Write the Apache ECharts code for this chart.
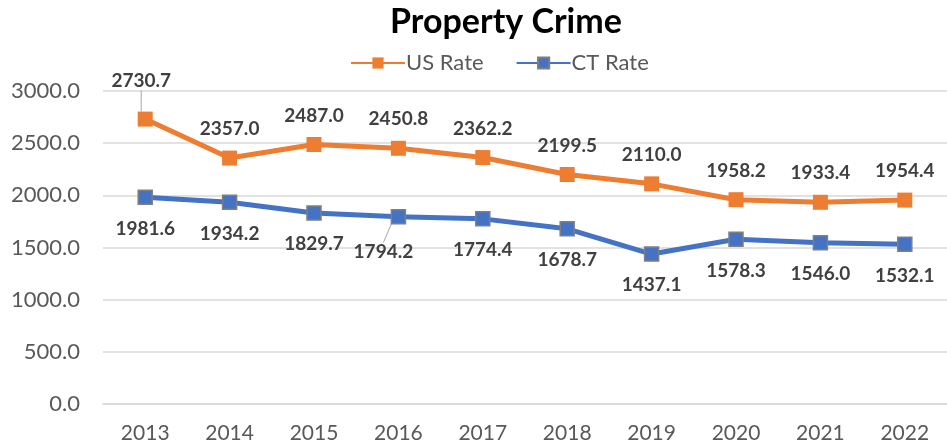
<!DOCTYPE html>
<html>
<head>
<meta charset="utf-8">
<script src="https://cdn.jsdelivr.net/npm/echarts@6/dist/echarts.min.js"></script>
<style>
  html, body { margin: 0; padding: 0; background: #fff; }
  #chart { width: 947px; height: 448px; }
</style>
</head>
<body>
<div id="chart"></div>
<script>
var years = ['2013', '2014', '2015', '2016', '2017', '2018', '2019', '2020', '2021', '2022'];
var usRate = [2730.7, 2357.0, 2487.0, 2450.8, 2362.2, 2199.5, 2110.0, 1958.2, 1933.4, 1954.4];
var ctRate = [1981.6, 1934.2, 1829.7, 1794.2, 1774.4, 1678.7, 1437.1, 1578.3, 1546.0, 1532.1];
var yTicks = [0, 500, 1000, 1500, 2000, 2500, 3000];

var chart = echarts.init(document.getElementById('chart'));
var font = 'Lato, "Open Sans", sans-serif';

// leader line only on the labels that were moved off their point
function withLeader(values, idx) {
    return values.map(function (v, i) {
        if (i === idx) return { value: v, labelLine: { show: true, lineStyle: { color: '#a6a6a6', width: 1 } } };
        return v;
    });
}

chart.setOption({
    animation: false,
    textStyle: { fontFamily: font },
    title: {
        text: 'Property Crime',
        left: 385,
        top: 0,
        textStyle: { fontSize: 34, fontWeight: 'bold', color: '#000', fontFamily: font }
    },
    legend: {
        top: 47,
        left: 345,
        itemWidth: 54,
        itemHeight: 14,
        itemGap: 32,
        textStyle: { fontSize: 22, color: '#595959', fontFamily: font, padding: [0, 0, 0, -4] },
        data: ['US Rate', 'CT Rate']
    },
    grid: { left: 103, top: 91, width: 850, height: 313, containLabel: false },
    xAxis: {
        type: 'category',
        data: years,
        boundaryGap: true,
        axisLine: { lineStyle: { color: '#d9d9d9', width: 1.5 } },
        axisTick: { show: false },
        axisLabel: { fontSize: 21, color: '#595959', margin: 19, fontFamily: font }
    },
    yAxis: {
        type: 'value',
        min: yTicks[0],
        max: yTicks[yTicks.length - 1],
        interval: 500,
        axisLine: { show: false },
        axisTick: { show: false },
        splitLine: { lineStyle: { color: '#d9d9d9', width: 1.5 } },
        axisLabel: {
            fontSize: 22, color: '#595959', margin: 23, fontFamily: font,
            formatter: function (v) { return v.toFixed(1); }
        }
    },
    series: [{
        name: 'US Rate',
        type: 'line',
        data: withLeader(usRate, 0),
        z: 3,
        symbol: 'rect',
        symbolSize: 15,
        color: '#ED7D31',
        lineStyle: { width: 5, color: '#ED7D31' },
        itemStyle: { color: '#ED7D31' },
        label: {
            show: true, position: 'top', distance: 12,
            fontSize: 19, fontWeight: 'bold', color: '#404040', fontFamily: font,
            formatter: function (p) { return p.value.toFixed(1); }
        },
        labelLayout: function (p) {
            if (p.dataIndex === 0) return { dx: -4, dy: -9 };
            return {};
        }
    }, {
        name: 'CT Rate',
        type: 'line',
        data: withLeader(ctRate, 3),
        z: 2,
        symbol: 'rect',
        symbolSize: 14,
        color: '#4472C4',
        lineStyle: { width: 5, color: '#4472C4' },
        itemStyle: { color: '#4472C4', borderColor: '#7f7f7f', borderWidth: 1.5 },
        label: {
            show: true, position: 'bottom', distance: 14,
            fontSize: 19, fontWeight: 'bold', color: '#404040', fontFamily: font,
            formatter: function (p) { return p.value.toFixed(1); }
        },
        labelLayout: function (p) {
            if (p.dataIndex === 3) return { dx: -15, dy: 4 };
            return {};
        }
    }]
});
</script>
</body>
</html>
